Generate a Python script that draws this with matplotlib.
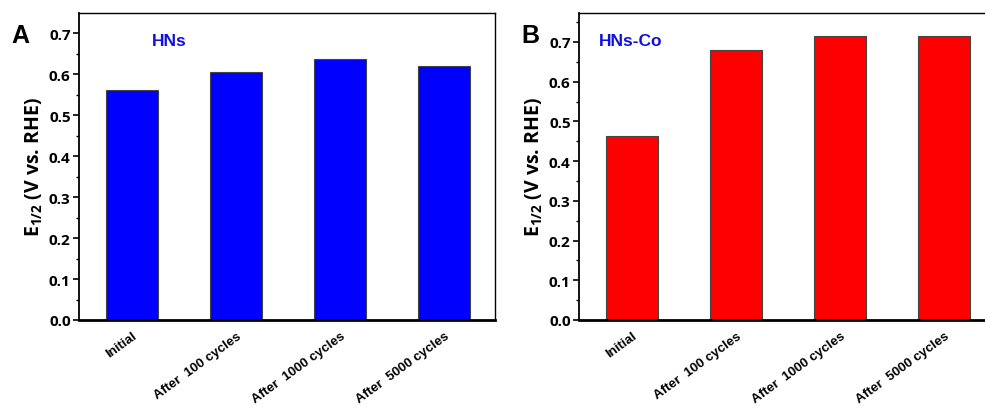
import numpy as np
import matplotlib
matplotlib.use('Agg')
import matplotlib.pyplot as plt
from matplotlib.ticker import MultipleLocator

# data
categories = ['Initial', 'After  100 cycles', 'After  1000 cycles', 'After  5000 cycles']
hns_values = [0.562, 0.604, 0.637, 0.620]
hnsco_values = [0.464, 0.681, 0.714, 0.715]

plt.rcParams['mathtext.fontset'] = 'custom'
plt.rcParams['mathtext.rm'] = 'Open Sans:bold'
plt.rcParams['mathtext.bf'] = 'Open Sans:bold'

fig = plt.figure(figsize=(9.85, 4.10), dpi=100)
W, H = 985, 410


def panel(left_px, values, color, letter, letter_x, name, name_x, ytop):
    ax = fig.add_axes([left_px / W, (H - 321) / H, 416 / W, 307 / H])
    x = np.arange(1, len(values) + 1)
    ax.bar(x, values, width=0.5, color=color, edgecolor='#444444', linewidth=0.8)
    ax.set_xlim(0.49, 4.49)
    ax.set_ylim(0, ytop)
    ax.yaxis.set_major_locator(MultipleLocator(0.1))
    ax.yaxis.set_minor_locator(MultipleLocator(0.05))
    ax.tick_params(axis='y', which='major', direction='out', length=4, width=1.2, pad=2)
    ax.tick_params(axis='y', which='minor', direction='out', length=2.5, width=1.0)
    ax.tick_params(axis='x', length=0, pad=7)
    ax.set_xticks(x)
    ax.set_xticklabels(categories, rotation=36, ha='right', rotation_mode='anchor',
                       fontsize=9.5, fontweight='bold', fontfamily='Liberation Sans')
    ax.set_yticks(np.arange(0, 0.71, 0.1))
    ax.set_yticklabels([f'{v:.1f}' for v in ax.get_yticks()])
    for lab in ax.get_yticklabels():
        lab.set_fontfamily('Open Sans')
        lab.set_fontweight('bold')
        lab.set_fontsize(11)
    ax.set_ylabel(r'E$_{1/2}$ (V vs. RHE)', fontsize=14, fontweight='bold',
                  fontfamily='Open Sans', labelpad=3)
    for s in ['top', 'right']:
        ax.spines[s].set_linewidth(1.0)
    ax.spines['left'].set_linewidth(1.3)
    ax.spines['bottom'].set_linewidth(2.0)
    ax.text(letter_x, 0.928, letter, transform=ax.transAxes, fontsize=18,
            fontweight='bold', fontfamily='Liberation Sans', ha='left', va='center')
    ax.text(name_x, 0.912, name, transform=ax.transAxes, fontsize=12.5,
            fontweight='bold', fontfamily='Liberation Sans', color='#1010e0',
            ha='left', va='center')
    return ax


panel(79, hns_values, '#0000ff', 'A', -0.163, 'HNs', 0.175, 0.749)
panel(579, hnsco_values, '#ff0000', 'B', -0.139, 'HNs-Co', 0.047, 0.773)

fig.savefig('out.png', dpi=100)
